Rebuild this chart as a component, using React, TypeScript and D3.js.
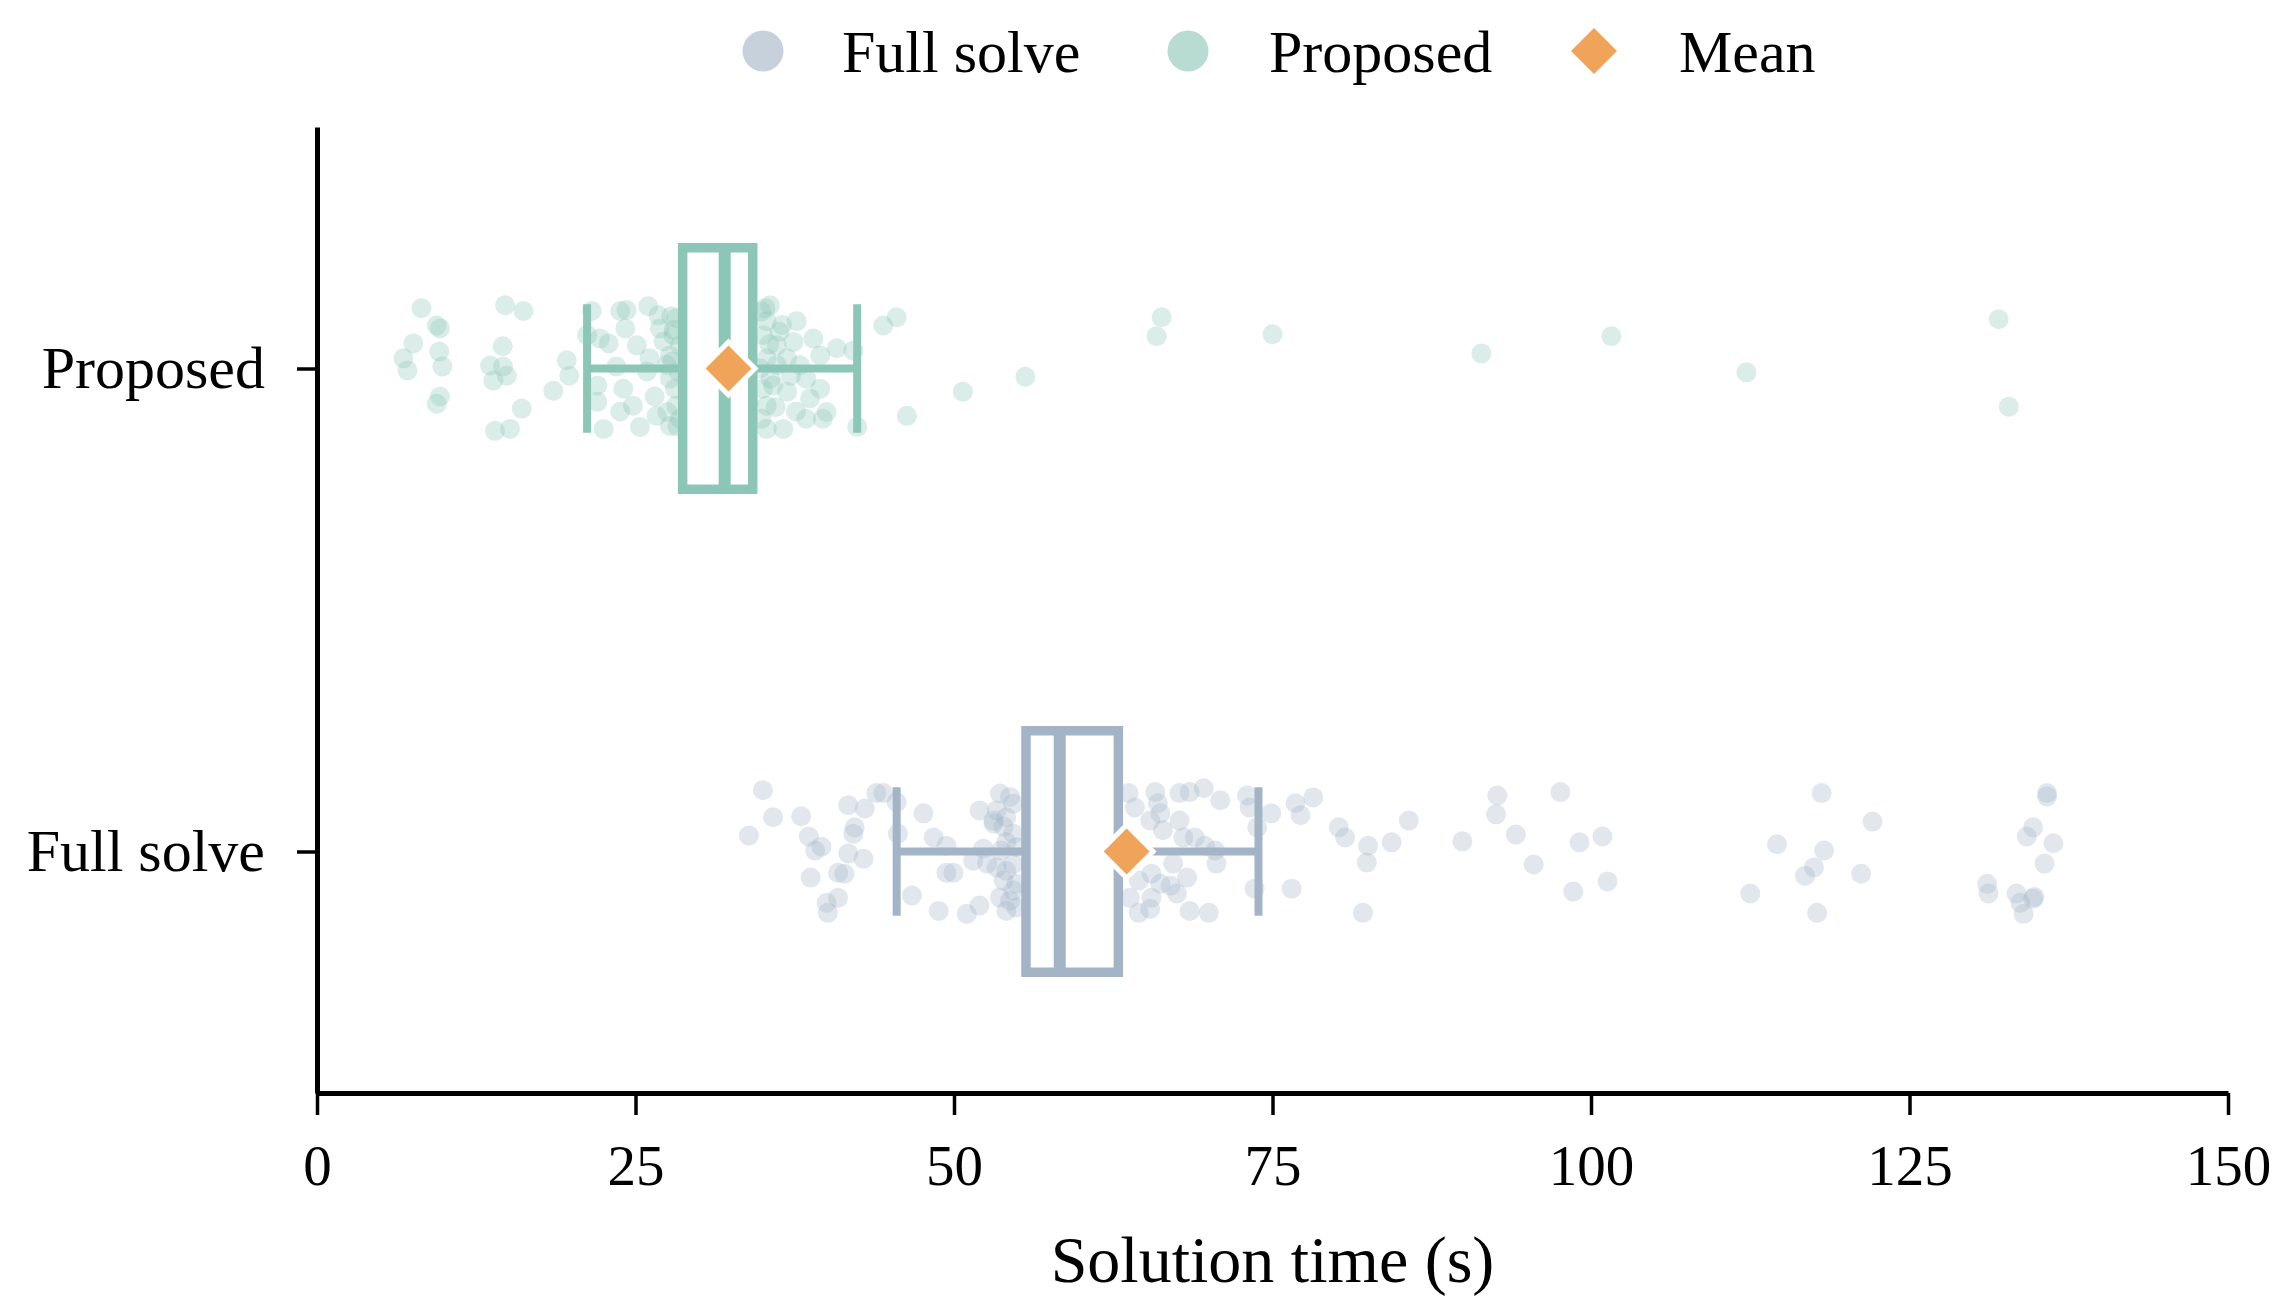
import { useEffect, useRef } from "react";
import * as d3 from "d3";

const categories = ["Full solve", "Proposed"];
const boxColors = ["#a3b4c7", "#8cc6b6"];
const meanColor = "#f0a459";
const xTicks = [0, 25, 50, 75, 100, 125, 150];

// box statistics per category (Full solve, Proposed)
const whiskerLow = [45.5, 21.2];
const q1 = [55.65, 28.7];
const medians = [58.3, 32.0];
const q3 = [62.9, 34.2];
const whiskerHigh = [73.9, 42.4];
const means = [63.55, 32.3];

// [solution time (s), jitter in hundredths of a category]
const proposedPoints: [number, number][] = [
  [8.2, -12.5], [9.65, -8.3], [9.4, -8.9], [7.56, -5.2], [6.78, -2.1], [7.1, 0.4], [9.6, -3.5], [9.84, -0.4],
  [9.65, 5.8], [9.4, 7.3], [14.76, -13.1], [16.2, -11.9], [14.57, -4.6], [13.58, -0.6], [14.6, -0.4], [14.9, 1.5],
  [13.84, 2.5], [16.07, 8.3], [13.97, 12.9], [15.15, 12.5], [19.6, -1.7], [19.8, 1.5], [18.55, 4.6],
  [21.56, -11.9], [23.8, -11.9], [26.0, -12.9], [24.2, -8.3], [21.2, -6.9], [22.2, -6.2], [22.9, -5.2],
  [25.1, -4.8], [26.9, -8.3], [27.8, -10.8], [27.2, -5.6], [26.1, -2.1], [27.7, -2.7], [22.0, 3.5], [22.0, 6.9],
  [24.05, 4.2], [23.8, 8.9], [22.5, 12.5], [24.8, 7.7], [25.35, 12.1], [26.5, 5.8], [26.65, 9.8], [27.7, 11.9],
  [27.7, 2.1], [28.2, 7.7], [25.9, 0.6], [23.5, -0.4], [24.3, -12.1], [28.2, -10.4], [28.5, -4.8], [28.4, 0.7],
  [28.1, 4.2], [28.5, 10.4], [27.45, -0.7], [27.97, -6.9],
  [28.0, -8], [27.5, 9], [28.3, 12], [26.8, -11], [27.9, -1.5],
  [29.4, -8], [30.1, 5], [30.8, -3], [31.5, 10], [32.4, -11], [33.2, 2], [33.9, 7],
  [35.56, -13.1], [35.3, -9.8], [37.65, -9.8], [38.96, -6.2], [40.8, -4.2], [42.1, -3.7], [39.5, -2.7],
  [36.1, -4.8], [35.3, -2.1], [36.9, -2.1], [38.4, 2.1], [35.8, 3.5], [36.9, 4.8], [38.7, 6.2], [35.3, 7.7],
  [37.6, 8.9], [39.7, 10.4], [36.6, 12.5], [35.3, 12.5], [42.4, 12.1], [44.45, -8.9], [45.5, -10.6], [46.3, 9.8],
  [34.9, -11.8], [35.0, -6.9], [34.8, 0], [35.0, 4.2], [34.9, 10.4], [35.6, 2.1], [36.1, -0.7], [36.3, -7.6],
  [37.4, -5.5], [37.9, -0.7], [39.5, 4.2], [40.0, 9.0], [38.4, 10.4],
  [35.5, -5], [36.0, 8], [35.2, -12.5], [36.5, -9], [37.2, 1.5],
  [50.7, 4.8], [55.6, 1.7], [66.3, -10.6], [65.9, -6.7], [75.0, -7.1], [91.4, -3.1], [101.6, -6.7],
  [112.2, 0.8], [132.0, -10.2], [132.8, 7.9],
];

const fullSolvePoints: [number, number][] = [
  [35.0, -12.7], [35.8, -7.1], [33.9, -3.3], [38.0, -7.3], [38.6, -3.1], [39.1, -0.2], [39.6, -1.0], [38.75, 5.4],
  [40.0, 10.6], [40.1, 12.7], [40.9, 9.6], [40.9, 4.4], [41.4, 4.6], [41.7, 0.4], [42.9, 1.5], [41.7, -9.6],
  [43.0, -8.9], [42.2, -5.0], [42.1, -3.7], [43.9, -12.1], [44.45, -12.1], [45.5, -10.2], [45.6, -3.7],
  [47.6, -7.9], [48.4, -2.9], [49.4, -1.2], [46.7, 9.1], [48.8, 12.3], [49.4, 4.4], [49.95, 4.4], [51.0, 12.9],
  [52.0, 11.2], [52.0, -8.5], [51.5, 1.9], [52.6, 2.5], [52.3, -0.6],
  [53.6, -12.0], [54.4, -11.3], [54.65, -9.9], [53.35, -8.5], [54.1, -7.1], [53.1, -5.8], [53.9, -5.1],
  [54.65, -3.7], [54.1, -1.9], [54.9, -0.9], [53.35, 3.3], [54.1, 4.0], [54.65, 2.6], [53.9, 6.0], [54.9, 6.7],
  [53.6, 9.5], [54.4, 10.2], [54.1, 12.3], [54.9, 11.6], [54.65, 8.1], [53.1, -6.4], [53.7, -0.2],
  [56.5, -6], [57.4, 3], [59.2, -10], [60.1, 8], [61.3, -2], [62.2, 11],
  [63.7, -12.1], [64.2, -9.1], [65.8, -12.3], [66.0, -10.0], [66.2, -7.9], [65.4, -6.4], [66.4, -4.4],
  [67.7, -12.1], [68.5, -12.3], [69.6, -13.1], [67.7, -6.4], [68.0, -2.9], [68.9, -2.9], [70.9, -10.6],
  [69.7, -1.2], [70.5, -0.2], [70.6, 2.5], [67.2, 2.5], [68.3, 5.4], [67.0, 7.1], [66.2, 6.7], [65.5, 4.6],
  [64.5, 6.0], [63.8, 9.6], [65.5, 9.6], [67.5, 8.7], [64.5, 12.7], [65.4, 11.9], [68.5, 12.3], [70.0, 12.7],
  [73.0, -11.6], [73.2, -9.1], [73.8, -5.0], [74.9, -7.9], [73.6, 7.7], [76.5, 7.7], [76.8, -10.0],
  [77.2, -7.5], [78.2, -11.2], [80.2, -5.0], [80.7, -2.9], [82.5, -1.2], [82.4, 2.3], [84.35, -1.9],
  [85.7, -6.4], [82.1, 12.7],
  [89.9, -2.1], [92.65, -11.6], [92.55, -7.7], [94.1, -3.5], [95.5, 2.7], [97.6, -12.3], [99.1, -1.9],
  [100.9, -3.1], [98.6, 8.3], [101.3, 6.2], [112.5, 8.7], [114.6, -1.5], [118.1, -12.1], [118.3, -0.2],
  [122.1, -6.2], [117.5, 3.3], [116.8, 5.0], [121.2, 4.6], [117.75, 12.7], [135.8, -12.1], [135.8, -11.4],
  [134.7, -5.0], [134.2, -3.1], [136.3, -1.7], [135.6, 2.5], [131.1, 6.7], [131.2, 8.7], [133.4, 8.7],
  [133.7, 10.6], [133.95, 12.9], [134.7, 9.8], [134.8, 9.4],
];

const W = 2292;
const H = 1314;
const FONT = "'Liberation Serif', 'Times New Roman', serif";

export default function App() {
  const svgRef = useRef<SVGSVGElement>(null);

  useEffect(() => {
    if (!svgRef.current) return;
    const svg = d3.select(svgRef.current);
    svg.selectAll("*").remove();

    const x = d3.scaleLinear().domain([0, 150]).range([317, 2228]);
    const y = d3.scaleLinear().domain([-0.5, 1.5]).range([1093, 127]);

    svg.append("rect").attr("width", W).attr("height", H).attr("fill", "white");

    // strip points
    const series = [fullSolvePoints, proposedPoints];
    series.forEach((pts, ci) => {
      svg
        .append("g")
        .selectAll("circle")
        .data(pts)
        .enter()
        .append("circle")
        .attr("cx", (d) => x(d[0]))
        .attr("cy", (d) => y(ci - d[1] / 100))
        .attr("r", 10)
        .attr("fill", boxColors[ci])
        .attr("fill-opacity", 0.32);
    });

    // boxes
    categories.forEach((_, ci) => {
      const g = svg.append("g");
      const c = boxColors[ci];
      const yc = y(ci);
      // whiskers
      g.append("line")
        .attr("x1", x(whiskerLow[ci])).attr("x2", x(q1[ci]))
        .attr("y1", yc).attr("y2", yc)
        .attr("stroke", c).attr("stroke-width", 8);
      g.append("line")
        .attr("x1", x(q3[ci])).attr("x2", x(whiskerHigh[ci]))
        .attr("y1", yc).attr("y2", yc)
        .attr("stroke", c).attr("stroke-width", 8);
      [whiskerLow[ci], whiskerHigh[ci]].forEach((v) => {
        g.append("line")
          .attr("x1", x(v)).attr("x2", x(v))
          .attr("y1", y(ci + 0.133)).attr("y2", y(ci - 0.133))
          .attr("stroke", c).attr("stroke-width", 8);
      });
      g.append("rect")
        .attr("x", x(q1[ci]))
        .attr("width", x(q3[ci]) - x(q1[ci]))
        .attr("y", y(ci + 0.25))
        .attr("height", y(ci - 0.25) - y(ci + 0.25))
        .attr("fill", "white")
        .attr("stroke", c)
        .attr("stroke-width", 9.5);
      g.append("line")
        .attr("x1", x(medians[ci])).attr("x2", x(medians[ci]))
        .attr("y1", y(ci + 0.25)).attr("y2", y(ci - 0.25))
        .attr("stroke", c).attr("stroke-width", 12);
    });

    // means
    const diamond = d3.symbol().type(d3.symbolSquare).size(1400);
    svg
      .append("g")
      .selectAll("path")
      .data(means)
      .enter()
      .append("path")
      .attr("d", diamond()!)
      .attr("transform", (d, i) => `translate(${x(d)},${y(i)}) rotate(45)`)
      .attr("fill", meanColor)
      .attr("stroke", "white")
      .attr("stroke-width", 5);

    // axes
    const xAxis = svg
      .append("g")
      .attr("transform", `translate(0,${y(-0.5)})`)
      .call(d3.axisBottom(x).tickValues(xTicks).tickSize(22).tickSizeOuter(0).tickPadding(30));
    xAxis.select(".domain").attr("stroke-width", 5).attr("stroke", "#000");
    xAxis.selectAll(".tick line").attr("stroke-width", 3.5).attr("stroke", "#000");
    xAxis.selectAll("text").attr("font-size", 57).attr("font-family", FONT).attr("fill", "#000");

    const yAxis = svg
      .append("g")
      .attr("transform", `translate(${x(0)},0)`)
      .call(
        d3
          .axisLeft(y)
          .tickValues([0, 1])
          .tickFormat((d) => categories[d as number])
          .tickSize(20)
          .tickSizeOuter(0)
          .tickPadding(32)
      );
    yAxis.select(".domain").attr("stroke-width", 5).attr("stroke", "#000");
    yAxis.selectAll(".tick line").attr("stroke-width", 3.5).attr("stroke", "#000");
    yAxis.selectAll("text").attr("font-size", 60).attr("font-family", FONT).attr("fill", "#000");

    svg
      .append("text")
      .attr("x", x(75))
      .attr("y", 1282)
      .attr("text-anchor", "middle")
      .attr("font-size", 66)
      .attr("font-family", FONT)
      .text("Solution time (s)");

    // legend
    const legend = svg.append("g").attr("font-family", FONT).attr("font-size", 60);
    legend.append("circle").attr("cx", 763).attr("cy", 51).attr("r", 20.5)
      .attr("fill", boxColors[0]).attr("fill-opacity", 0.62);
    legend.append("text").attr("x", 842).attr("y", 72).text(categories[0]);
    legend.append("circle").attr("cx", 1188).attr("cy", 51).attr("r", 20.5)
      .attr("fill", boxColors[1]).attr("fill-opacity", 0.62);
    legend.append("text").attr("x", 1269).attr("y", 72).text(categories[1]);
    legend.append("path")
      .attr("d", d3.symbol().type(d3.symbolSquare).size(1060)()!)
      .attr("transform", "translate(1594,51) rotate(45)")
      .attr("fill", meanColor);
    legend.append("text").attr("x", 1679).attr("y", 72).text("Mean");
  }, []);

  return (
    <svg
      ref={svgRef}
      width={W}
      height={H}
      style={{ position: "absolute", left: 0, top: 0, display: "block" }}
    />
  );
}
